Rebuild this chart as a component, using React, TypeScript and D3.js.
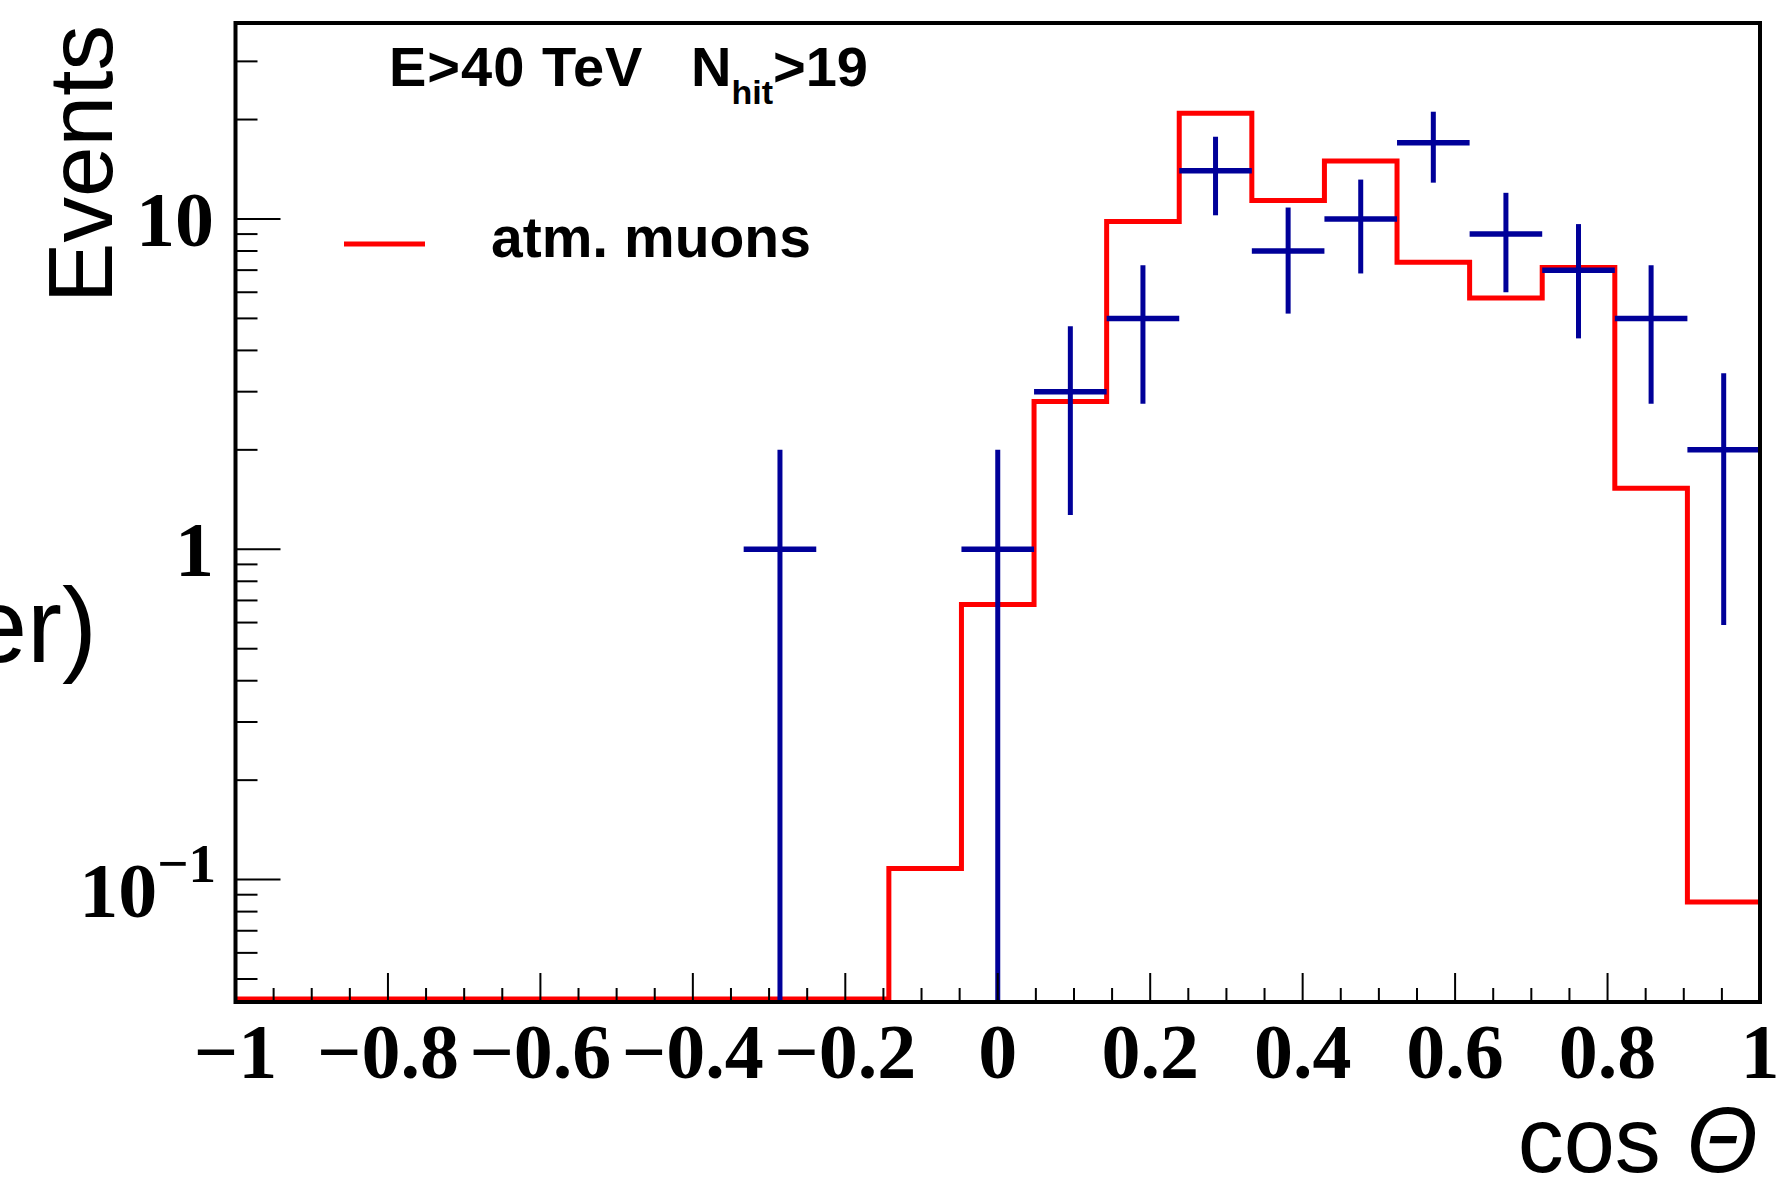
import React from 'react';
import * as d3 from 'd3';

// ---- data ----
const binCount = 21;
const xDomain = [-1, 1];
const muonMC = [0, 0, 0, 0, 0, 0, 0, 0, 0, 0.108, 0.68, 2.8, 9.82, 20.9, 11.37, 14.97, 7.4, 5.76, 7.13, 1.53, 0.0855];
const dataCounts = [0, 0, 0, 0, 0, 0, 0, 1, 0, 0, 1, 3, 5, 14, 8, 10, 17, 9, 7, 5, 2];
const dataErrors = [0, 0, 0, 0, 0, 0, 0, 1, 0, 0, 1, 1.73, 2.24, 3.74, 2.83, 3.16, 4.12, 3, 2.65, 2.24, 1.41];
const xTickValues = [-1, -0.8, -0.6, -0.4, -0.2, 0, 0.2, 0.4, 0.6, 0.8, 1];
const xTickLabels = ['\u22121', '\u22120.8', '\u22120.6', '\u22120.4', '\u22120.2', '0', '0.2', '0.4', '0.6', '0.8', '1'];
const yDomain = [0.0426, 39.2];
const yMajorTicks = [0.1, 1, 10];
const yMinorTicks = [0.05, 0.06, 0.07, 0.08, 0.09, 0.2, 0.3, 0.4, 0.5, 0.6, 0.7, 0.8, 0.9, 2, 3, 4, 5, 6, 7, 8, 9, 20, 30];
const legendLabel = 'atm. muons';
const cutText = 'E>40 TeV';

const W = 1783;
const H = 1179;
const L = 235.5, R = 1760, T = 23, B = 1002;
const RED = '#ff0000';
const BLUE = '#000099';
const SERIF = '"Liberation Serif", "Times New Roman", serif';
const SANS = '"Liberation Sans", Arial, Helvetica, sans-serif';

export default function App() {
  const x = d3.scaleLinear().domain(xDomain).range([L, R]);
  const y = d3.scaleLog().domain(yDomain).range([B, T]);
  const binW = (xDomain[1] - xDomain[0]) / binCount;
  const edges = d3.range(binCount + 1).map((i) => xDomain[0] + i * binW);
  const floorY = B - 3;
  const yc = (v: number) => (v <= yDomain[0] ? floorY : y(v));

  // step histogram
  const pts: [number, number][] = [];
  muonMC.forEach((v, i) => {
    pts.push([x(edges[i]), yc(v)]);
    pts.push([x(edges[i + 1]), yc(v)]);
  });
  const stepPath = d3.line()(pts) as string;

  const xMinor: number[] = [];
  for (let i = 0; i <= 40; i++) {
    const v = -1 + i * 0.05;
    if (i % 4 !== 0) xMinor.push(v);
  }

  return (
    <svg width={W} height={H} style={{ position: 'absolute', left: 0, top: 0, display: 'block', background: '#fff' }}>
      <rect x={0} y={0} width={W} height={H} fill="#fff" />

      {/* step histogram */}
      <path d={stepPath} fill="none" stroke={RED} strokeWidth={5} strokeLinejoin="miter" />

      {/* data points */}
      {dataCounts.map((c, i) =>
        c > 0 ? (
          <g key={i} stroke={BLUE}>
            <line x1={x(edges[i])} x2={x(edges[i + 1])} y1={y(c)} y2={y(c)} strokeWidth={5.5} />
            <line
              x1={x((edges[i] + edges[i + 1]) / 2)}
              x2={x((edges[i] + edges[i + 1]) / 2)}
              y1={y(c + dataErrors[i])}
              y2={c - dataErrors[i] <= yDomain[0] ? B : y(c - dataErrors[i])}
              strokeWidth={5}
            />
          </g>
        ) : null
      )}

      {/* y ticks */}
      {yMajorTicks.map((v) => (
        <line key={'ym' + v} x1={L} x2={L + 45} y1={y(v)} y2={y(v)} stroke="#000" strokeWidth={2} />
      ))}
      {yMinorTicks.map((v) => (
        <line key={'yn' + v} x1={L} x2={L + 22} y1={y(v)} y2={y(v)} stroke="#000" strokeWidth={2} />
      ))}
      {/* x ticks */}
      {xTickValues.map((v) => (
        <line key={'xm' + v} x1={x(v)} x2={x(v)} y1={B} y2={B - 29} stroke="#000" strokeWidth={2} />
      ))}
      {xMinor.map((v) => (
        <line key={'xn' + v} x1={x(v)} x2={x(v)} y1={B} y2={B - 14} stroke="#000" strokeWidth={2} />
      ))}

      {/* frame */}
      <rect x={L} y={T} width={R - L} height={B - T} fill="none" stroke="#000" strokeWidth={4} />

      {/* x tick labels */}
      {xTickValues.map((v, i) => (
        <text key={'xl' + v} x={x(v)} y={1078} textAnchor="middle" fontFamily={SERIF} fontWeight="bold" fontSize={78}>
          {xTickLabels[i]}
        </text>
      ))}

      {/* y tick labels */}
      <text x={214} y={y(10) + 27} textAnchor="end" fontFamily={SERIF} fontWeight="bold" fontSize={78}>10</text>
      <text x={214} y={y(1) + 27} textAnchor="end" fontFamily={SERIF} fontWeight="bold" fontSize={78}>1</text>
      <text x={216} y={y(0.1) + 37} textAnchor="end" fontFamily={SERIF} fontWeight="bold" fontSize={78}>
        10<tspan dy={-35} fontSize={55}>{'\u22121'}</tspan>
      </text>

      {/* axis titles */}
      <text transform="translate(112,25) rotate(-90)" textAnchor="end" fontFamily={SANS} fontSize={91}>Events</text>
      <text x={1758} y={1172} textAnchor="end" fontFamily={SANS} fontSize={92}>
        cos <tspan fontStyle="italic">Θ</tspan>
      </text>

      {/* leftover fragment */}
      <text x={97} y={662} textAnchor="end" fontFamily={SANS} fontSize={105}>er)</text>

      {/* cut label */}
      <text x={389} y={86} fontFamily={SANS} fontWeight="bold" fontSize={56} letterSpacing={1}>{cutText}</text>
      <text x={691} y={86} fontFamily={SANS} fontWeight="bold" fontSize={56}>
        N<tspan dy={18} fontSize={34}>hit</tspan><tspan dy={-18} fontSize={56}>{'>19'}</tspan>
      </text>

      {/* legend */}
      <line x1={344} x2={425} y1={244} y2={244} stroke={RED} strokeWidth={5} />
      <text x={491} y={257} fontFamily={SANS} fontWeight="bold" fontSize={57}>{legendLabel}</text>
    </svg>
  );
}
